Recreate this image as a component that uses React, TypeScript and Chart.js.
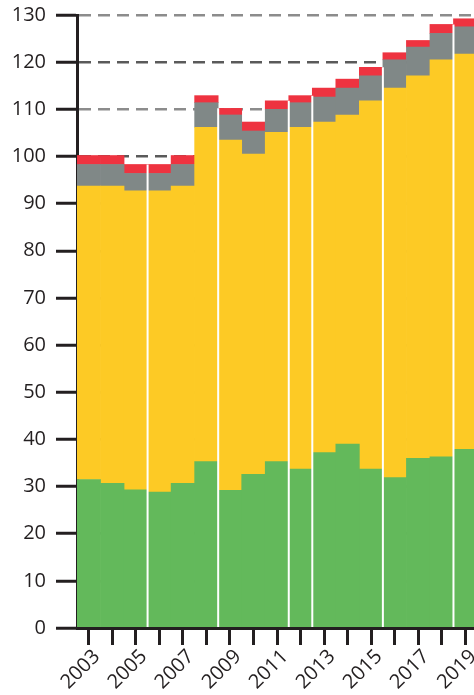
import React, { useEffect, useRef } from "react";
import { Chart, registerables } from "chart.js";

Chart.register(...registerables);

const years = [
  "2003", "2004", "2005", "2006", "2007", "2008", "2009", "2010", "2011",
  "2012", "2013", "2014", "2015", "2016", "2017", "2018", "2019",
];
const greenValues = [31.5, 30.7, 29.3, 28.8, 30.7, 35.3, 29.2, 32.6, 35.3, 33.7, 37.2, 39.0, 33.7, 31.9, 36.0, 36.3, 37.9];
const yellowValues = [62.2, 63.0, 63.4, 63.9, 63.0, 70.9, 74.3, 67.9, 69.8, 72.5, 70.1, 69.8, 78.1, 82.6, 81.1, 84.2, 83.8];
const grayValues = [4.6, 4.6, 3.7, 3.7, 4.6, 5.2, 5.3, 4.9, 4.9, 5.2, 5.3, 5.7, 5.3, 6.0, 6.1, 5.6, 5.8];
const redValues = [1.9, 1.9, 1.9, 1.9, 1.9, 1.5, 1.4, 1.9, 1.8, 1.5, 1.9, 1.9, 1.8, 1.5, 1.4, 1.9, 1.7];
// white gaps appear after these bar indices
const gapAfter = [2, 5, 8, 9, 12, 15];
const yMin = 0;
const yMax = 130;
const yStep = 10;

const ink = "#231f20";
const font = { family: "'Open Sans', sans-serif", size: 20 };

const gapPlugin = {
  id: "gaps",
  afterDatasetsDraw(chart: any) {
    const xs = chart.scales.x;
    const ys = chart.scales.y;
    const ctx = chart.ctx;
    const totals = years.map((_, i) => greenValues[i] + yellowValues[i] + grayValues[i] + redValues[i]);
    ctx.save();
    ctx.strokeStyle = "#ffffff";
    ctx.lineWidth = 2;
    for (const i of gapAfter) {
      const x = (xs.getPixelForValue(i) + xs.getPixelForValue(i + 1)) / 2;
      const top = ys.getPixelForValue(Math.min(totals[i], totals[i + 1]));
      ctx.beginPath();
      ctx.moveTo(x, top);
      ctx.lineTo(x, chart.chartArea.bottom - 1);
      ctx.stroke();
    }
    ctx.restore();
  },
};

export default function App() {
  const ref = useRef<HTMLCanvasElement | null>(null);
  useEffect(() => {
    if (!ref.current) return;
    const mk = (label: string, data: number[], color: string) => ({
      label,
      data,
      backgroundColor: color,
      borderWidth: 0,
      categoryPercentage: 1,
      barPercentage: 1,
    });
    const chart = new Chart(ref.current, {
      type: "bar",
      data: {
        labels: years,
        datasets: [
          mk("green", greenValues, "#63b95b"),
          mk("yellow", yellowValues, "#fdca25"),
          mk("gray", grayValues, "#808887"),
          mk("red", redValues, "#ee3340"),
        ],
      },
      options: {
        animation: false,
        responsive: false,
        layout: { padding: { top: 15, right: 0, left: 0, bottom: 0 } },
        plugins: { legend: { display: false }, tooltip: { enabled: false } },
        scales: {
          x: {
            stacked: true,
            offset: true,
            afterFit: (s: any) => {
              s.height = 67;
              s.paddingLeft = 0;
              s.paddingRight = 0;
            },
            grid: {
              display: true,
              drawOnChartArea: false,
              offset: false,
              tickLength: 17,
              tickColor: ink,
              tickWidth: 3,
            },
            border: { color: ink, width: 3 },
            ticks: {
              autoSkip: false,
              maxRotation: 45,
              minRotation: 45,
              padding: 0,
              labelOffset: 8,
              color: ink,
              font,
              callback: (_v: any, i: number) => (i % 2 === 0 ? years[i] : ""),
            },
          },
          y: {
            stacked: true,
            min: yMin,
            max: yMax,
            afterFit: (s: any) => {
              s.width = 77;
              s.paddingTop = 0;
              s.paddingBottom = 0;
            },
            grid: {
              color: (c: any) => ((c.tick.value / 10) % 2 === 0 ? "#5a5a5a" : "#8c8c8c"),
              lineWidth: 2.5,
              tickLength: 21,
              tickColor: ink,
              tickWidth: 3,
              tickBorderDash: [],
            },
            border: { color: ink, width: 3, dash: [12, 7] },
            ticks: {
              stepSize: yStep,
              padding: 10,
              color: ink,
              font,
            },
          },
        },
      },
      plugins: [gapPlugin],
    } as any);
    return () => chart.destroy();
  }, []);
  return (
    <div style={{ position: "fixed", left: 0, top: 0, width: 474, height: 695, overflow: "hidden", background: "#fff" }}>
      <canvas ref={ref} width={477} height={695} style={{ display: "block" }} />
    </div>
  );
}
